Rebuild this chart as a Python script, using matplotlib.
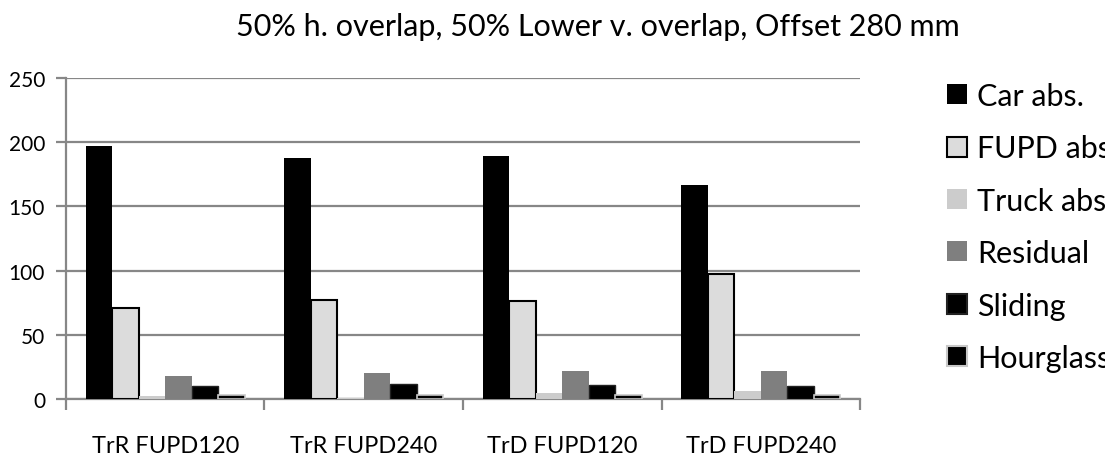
import numpy as np
import matplotlib
matplotlib.use("Agg")
import matplotlib.pyplot as plt
from matplotlib.lines import Line2D

plt.rcParams['font.family'] = ['Lato', 'DejaVu Sans']

# data
groups = ["TrR FUPD120", "TrR FUPD240", "TrD FUPD120", "TrD FUPD240"]
series = ["Car abs.", "FUPD abs.", "Truck abs.", "Residual", "Sliding", "Hourglass"]
car_abs = [197, 188, 189, 167]
fupd_abs = [71, 77, 76, 97]
truck_abs = [2, 1, 5, 6]
residual = [18, 20, 22, 22]
sliding = [10, 12, 11, 10]
hourglass = [3, 3, 3, 3]
values = [car_abs, fupd_abs, truck_abs, residual, sliding, hourglass]

faces = ["black", "#dcdcdc", "#cccccc", "#7f7f7f", "black", "black"]
edges = ["black", "black", "#cccccc", "#7f7f7f", "#222222", "#c8c8c8"]
lws = [0, 1.5, 0, 0, 1.0, 1.2]

grid_c = "#878787"

fig = plt.figure(figsize=(11.05, 4.6), dpi=100)
ax = fig.add_axes([0.0597, 0.1304, 0.7186, 0.6978])

x = np.arange(len(groups))
bw = 0.8 / len(series)
for i, (vals, fc, ec, lw) in enumerate(zip(values, faces, edges, lws)):
    ax.bar(x - 0.4 + bw * (i + 0.5), vals, width=bw, color=fc,
           edgecolor=ec, linewidth=lw, zorder=3)

ax.set_xlim(-0.5, len(groups) - 0.5)
ax.set_ylim(0, 250)
ax.set_yticks([0, 50, 100, 150, 200, 250])
ax.yaxis.grid(True, color=grid_c, linewidth=1.6)
ax.set_axisbelow(True)

# category labels centered, tick marks at the boundaries
ax.set_xticks(x)
ax.set_xticklabels(groups, fontsize=17)
ax.tick_params(axis='x', which='major', length=0, pad=26)
ax.set_xticks(np.arange(len(groups) + 1) - 0.5, minor=True)
ax.tick_params(axis='x', which='minor', length=8, width=1.6, color=grid_c)
ax.tick_params(axis='y', length=7, width=1.6, color=grid_c, labelsize=15, pad=8)

for s in ["top", "right"]:
    ax.spines[s].set_visible(False)
for s in ["left", "bottom"]:
    ax.spines[s].set_color(grid_c)
    ax.spines[s].set_linewidth(1.6)

fig.text(0.541, 0.941, "50% h. overlap, 50% Lower v. overlap, Offset 280 mm",
         fontsize=22, ha='center', va='center')

handles = [Line2D([], [], linestyle='none', marker='s', markersize=14,
                  markerfacecolor=fc, markeredgecolor=ec,
                  markeredgewidth=max(lw, 1.5) if lw else 0)
           for fc, ec, lw in zip(faces, edges, lws)]
fig.legend(handles, series, loc='upper left', bbox_to_anchor=(0.855, 0.82),
           frameon=False, fontsize=22, handlelength=0.8, handletextpad=0.25,
           labelspacing=0.8, borderaxespad=0, borderpad=0)

fig.savefig("out.png", dpi=100)
